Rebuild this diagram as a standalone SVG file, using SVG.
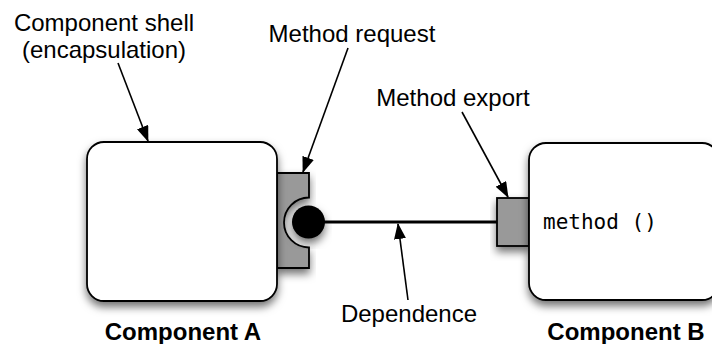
<svg xmlns="http://www.w3.org/2000/svg" width="712" height="344" viewBox="0 0 712 344">
<style>
.box{fill:#fff;stroke:#000;stroke-width:1.8}
.port{fill:#999;stroke:#000;stroke-width:1.8}
.lbl{font-family:"Liberation Sans",Arial,sans-serif;font-size:24px;fill:#000;text-anchor:middle}
.bold{font-weight:bold}
.mono{font-family:"DejaVu Sans Mono","Liberation Mono",monospace;font-size:21px;fill:#000}
.arrow{stroke:#000;stroke-width:1.6;fill:none;marker-end:url(#ah)}
</style>
<defs>
<filter id="sh" x="-20%" y="-20%" width="140%" height="150%">
<feDropShadow dx="0" dy="5" stdDeviation="4" flood-color="#000" flood-opacity="0.55"/>
</filter>
<marker id="ah" viewBox="0 0 16 12" refX="15" refY="6" markerWidth="16" markerHeight="12" markerUnits="userSpaceOnUse" orient="auto">
<path d="M0,0 L16,6 L0,12 Z" fill="#000"/>
</marker>
</defs>
<g id="componentA">
<path class="port" filter="url(#sh)" d="M277,173 H309 V197.5 A25,25 0 0 0 309,247.5 V268 H277 Z"/>
<rect class="box" filter="url(#sh)" x="87" y="142" width="190" height="159" rx="17" ry="17"/>
<circle cx="308.5" cy="222" r="16.5" fill="#000" filter="url(#sh)"/>
<text class="lbl bold" x="183" y="340">Component A</text>
</g>
<g id="componentB">
<rect class="port" filter="url(#sh)" x="497" y="198" width="32" height="48"/>
<rect class="box" filter="url(#sh)" x="529" y="143" width="190" height="157" rx="17" ry="17"/>
<text class="mono" x="543" y="229">method ()</text>
<text class="lbl bold" x="626" y="340">Component B</text>
</g>
<g id="connectors">
<line x1="320" y1="222" x2="497" y2="222" stroke="#000" stroke-width="3"/>
<line class="arrow" x1="118" y1="63" x2="148" y2="141"/>
<line class="arrow" x1="348" y1="48" x2="303" y2="172"/>
<line class="arrow" x1="462" y1="112" x2="508" y2="197"/>
<line class="arrow" x1="408" y1="300" x2="398" y2="224"/>
</g>
<g id="labels">
<text class="lbl" x="104" y="31">Component shell</text>
<text class="lbl" x="104" y="58">(encapsulation)</text>
<text class="lbl" x="352" y="42">Method request</text>
<text class="lbl" x="453" y="106">Method export</text>
<text class="lbl" x="409" y="322">Dependence</text>
</g>
</svg>
